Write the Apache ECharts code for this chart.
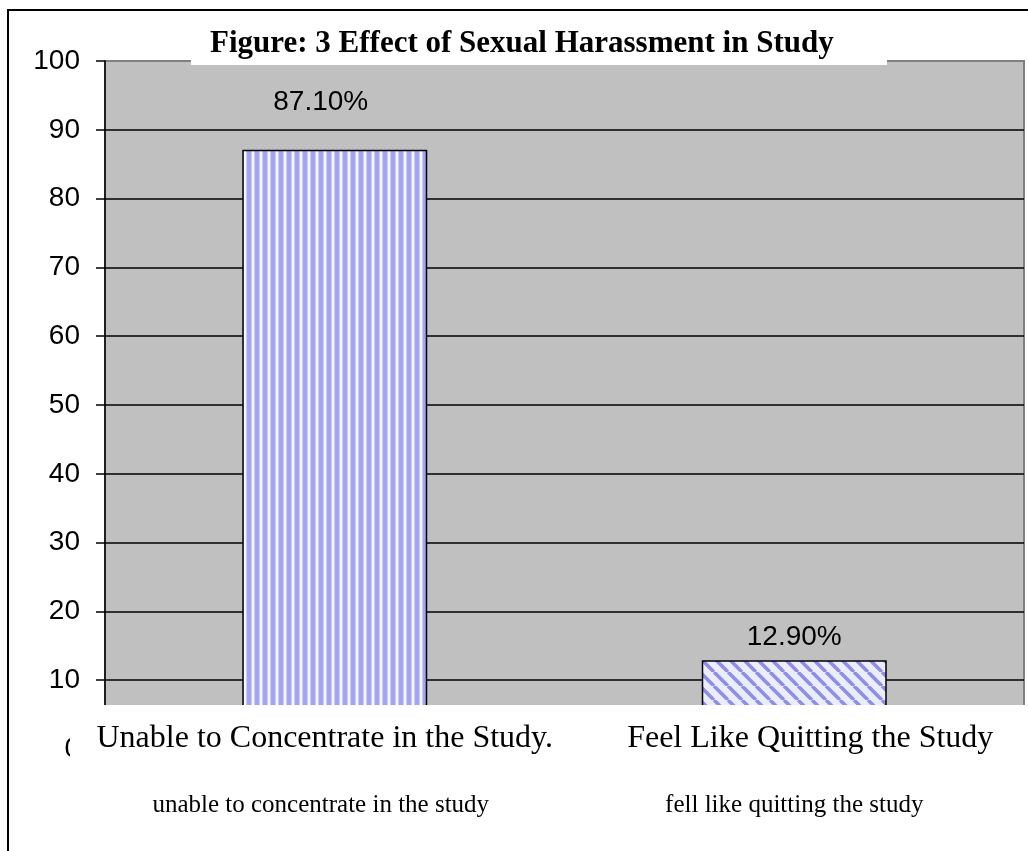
<!DOCTYPE html>
<html><head><meta charset="utf-8">
<script src="https://cdn.jsdelivr.net/npm/echarts/dist/echarts.min.js"></script>
<style>html,body{margin:0;padding:0;background:#fff}#c{width:1028px;height:851px}</style>
</head><body><div id="c"></div><script>
const titleText = 'Figure: 3 Effect of Sexual Harassment in Study';
const categories = ['Unable to Concentrate in the Study.', 'Feel Like Quitting the Study'];
const subLabels = ['unable to concentrate in the study', 'fell like quitting the study'];
const values = [87.1, 12.9];
const yMin = 0, yMax = 100, yStep = 10;

function vPattern() {
  const c = document.createElement('canvas'); c.width = 8; c.height = 8;
  const g = c.getContext('2d');
  const cols = ['#a4a4f6', '#a4a4f6', '#a8a8f0', '#cacaf8', '#f6f6ff', '#f6f6ff', '#cacaf8', '#a8a8e0'];
  cols.forEach((col, i) => { g.fillStyle = col; g.fillRect(i, 0, 1, 8); });
  return c;
}
function dPattern() {
  const s = 14;
  const c = document.createElement('canvas'); c.width = s; c.height = s;
  const g = c.getContext('2d');
  g.fillStyle = '#ececff'; g.fillRect(0, 0, s, s);
  g.strokeStyle = '#8e8ee6'; g.lineWidth = 3.5;
  for (let k = -1; k <= 1; k++) {
    g.beginPath(); g.moveTo(k * s, 0); g.lineTo(k * s + s, s); g.stroke();
  }
  return c;
}
const fills = [vPattern(), dPattern()];
const labelTweaks = [{distance: 33, offset: [-14, 0]}, {distance: 9, offset: [0, 0]}];

const chart = echarts.init(document.getElementById('c'));
chart.setOption({
  animation: false,
  title: {
    text: titleText, left: 210, top: 28, padding: 0, z: 10,
    textStyle: {fontFamily: 'Liberation Serif', fontWeight: 'bold', fontSize: 31, color: '#000'}
  },
  grid: {
    left: 105, right: 4, top: 61, bottom: 102, show: true,
    backgroundColor: '#c0c0c0', borderColor: '#808080', borderWidth: 2
  },
  xAxis: {
    type: 'category', data: categories, z: 10,
    axisLine: {show: false}, axisTick: {show: false},
    axisLabel: {
      interval: 0, margin: -44, color: '#000',
      formatter: (v, i) => `{a${i}|${v}}\n{b${i}|${subLabels[i]}}`,
      rich: {
        a0: {fontFamily: 'Liberation Serif', fontSize: 32, lineHeight: 67, color: '#000', padding: [0, 20, 0, 0]},
        a1: {fontFamily: 'Liberation Serif', fontSize: 32, lineHeight: 67, color: '#000', padding: [0, 0, 0, 32]},
        b0: {fontFamily: 'Liberation Serif', fontSize: 25, lineHeight: 67, color: '#000', padding: [0, 28, 0, 0]},
        b1: {fontFamily: 'Liberation Serif', fontSize: 25, lineHeight: 67, color: '#000'}
      }
    }
  },
  yAxis: {
    type: 'value', min: yMin, max: yMax, interval: yStep,
    axisLine: {show: true, lineStyle: {color: '#000', width: 1.5}},
    axisTick: {show: true, length: 9, lineStyle: {color: '#000', width: 1.5}},
    axisLabel: {fontFamily: 'Liberation Sans', fontSize: 28, color: '#000', margin: 25},
    splitLine: {show: true, showMaxLine: false, lineStyle: {color: '#000', width: 1.5}}
  },
  series: [{
    type: 'bar', barWidth: 185,
    data: values.map((v, i) => ({
      value: v,
      itemStyle: {color: {image: fills[i], repeat: 'repeat'}, borderColor: '#000', borderWidth: 1.5},
      label: labelTweaks[i]
    })),
    label: {
      show: true, position: 'top', fontFamily: 'Liberation Sans', fontSize: 28, color: '#000',
      formatter: p => p.value.toFixed(2) + '%'
    }
  }],
  graphic: [
    {type: 'rect', z: 5, shape: {x: 70, y: 705, width: 1000, height: 200}, style: {fill: '#fff'}},
    {type: 'rect', z: 5, shape: {x: 191, y: 12, width: 696, height: 53}, style: {fill: '#fff'}},
    {type: 'rect', z: 50, shape: {x: 8, y: 10, width: 1100, height: 900}, style: {fill: 'none', stroke: '#000', lineWidth: 2}}
  ]
});
</script></body></html>
